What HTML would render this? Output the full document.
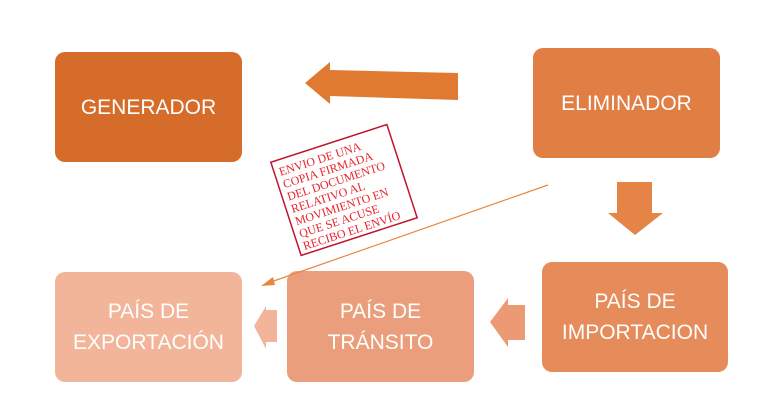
<!DOCTYPE html>
<html><head><style>
body{margin:0;width:784px;height:415px;background:#fff;position:relative;overflow:hidden;font-family:"Liberation Sans",sans-serif}
.b{position:absolute;border-radius:10px;color:#fff;display:flex;align-items:center;justify-content:center;text-align:center;font-size:21px;line-height:31px}
</style></head><body>
<div class="b" style="left:55px;top:52px;width:187px;height:110px;background:#d66c2a">GENERADOR</div>
<div class="b" style="left:533px;top:48px;width:187px;height:110px;background:#e07e44">ELIMINADOR</div>
<div class="b" style="left:542px;top:262px;width:186px;height:110px;background:#e68b5a">PAÍS DE<br>IMPORTACION</div>
<div class="b" style="left:287px;top:271px;width:187px;height:111px;background:#eb9e7b">PAÍS DE<br>TRÁNSITO</div>
<div class="b" style="left:55px;top:272px;width:187px;height:110px;background:#f2b59a">PAÍS DE<br>EXPORTACIÓN</div>
<svg width="784" height="415" style="position:absolute;left:0;top:0">
<polygon points="458,73 458,100 330,96 330,104 305,83 330,62 330,70" fill="#e07a30"/>
<polygon points="617,182 652,182 652,213 663,213 635,235 608,213 617,213" fill="#e68448"/>
<polygon points="525,305 525,340 508,340 508,347 490,322 508,298 508,305" fill="#eb9a74"/>
<polygon points="277,310 277,342 266,342 266,349 254,326 266,306 266,310" fill="#f2b49a"/>
<line x1="548" y1="185" x2="268" y2="283" stroke="#e8873e" stroke-width="1.2"/>
<polygon points="261,286 273,277 275,285" fill="#e8873e"/>
<g transform="translate(344,190) rotate(-18)">
<rect x="-61" y="-49" width="122" height="98" fill="#fff" stroke="#c0142c" stroke-width="1.5"/>
<g font-family="Liberation Serif,serif" font-size="12" fill="#e8232c">
<text x="-56" y="-33">ENVIO  DE UNA</text>
<text x="-56" y="-20">COPIA FIRMADA</text>
<text x="-56" y="-7">DEL DOCUMENTO</text>
<text x="-56" y="6">RELATIVO AL</text>
<text x="-56" y="19">MOVIMIENTO  EN</text>
<text x="-56" y="32">QUE SE ACUSE</text>
<text x="-56" y="45">RECIBO EL ENVÍO</text>
</g></g>
</svg>
</body></html>
